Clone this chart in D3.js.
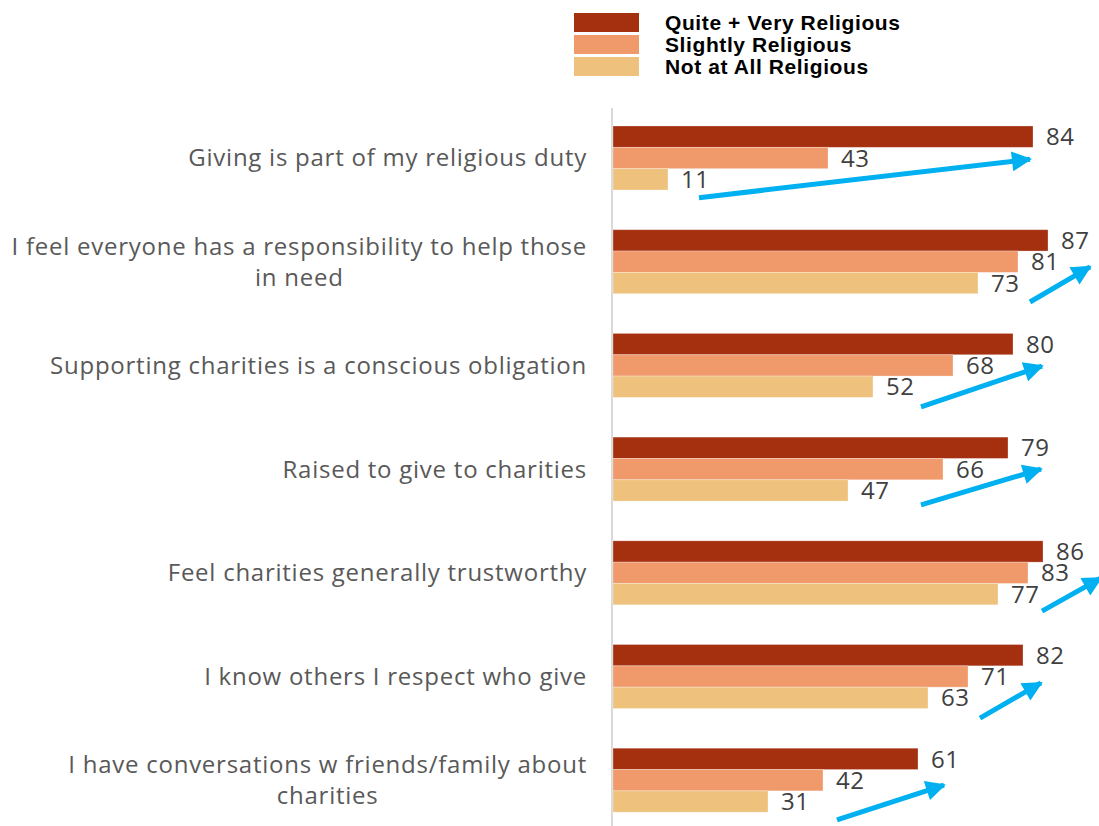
<!DOCTYPE html>
<html>
<head>
<meta charset="utf-8">
<script src="https://cdn.jsdelivr.net/npm/d3@7"></script>
<style>
  html, body { margin: 0; padding: 0; background: #fff; }
  svg { display: block; }
</style>
</head>
<body>
<svg id="chart" width="1099" height="826"></svg>
<script>
// Survey statements (top to bottom)
const categories = [
  "Giving is part of my religious duty",
  "I feel everyone has a responsibility to help those in need",
  "Supporting charities is a conscious obligation",
  "Raised to give to charities",
  "Feel charities generally trustworthy",
  "I know others I respect who give",
  "I have conversations w friends/family about charities"
];

// Religiosity groups
const series = ["Quite + Very Religious", "Slightly Religious", "Not at All Religious"];

// Percent agreeing, per group
const quiteVery   = [84, 87, 80, 79, 86, 82, 61];
const slightly    = [43, 81, 68, 66, 83, 71, 42];
const notAtAll    = [11, 73, 52, 47, 77, 63, 31];

// Trend arrows: start/end value along the x axis, and vertical position
// as a fraction of each category band
const arrowFromValue = [17.2, 83.4, 61.6, 61.6, 85.8, 73.4, 44.8];
const arrowToValue   = [83.4, 95.4, 85.8, 85.6, 97.6, 85.6, 66.2];
const arrowFromBand  = [1.12, 1.13, 1.15, 1.06, 1.10, 1.15, 1.12];
const arrowToBand    = [0.52, 0.58, 0.51, 0.50, 0.58, 0.60, 0.575];

const colors = ["#a53010", "#f09a6c", "#eec27c"];
const seriesValues = [quiteVery, slightly, notAtAll];

const svg = d3.select("#chart");

const x = d3.scaleLinear().domain([0, 100]).range([613, 1113]);

const y = d3.scaleBand()
  .domain(categories)
  .range([126, 812.2])
  .paddingInner(0.383)
  .paddingOuter(0);

const ySub = d3.scaleBand()
  .domain(series)
  .range([0, y.bandwidth()])
  .padding(0);

const color = d3.scaleOrdinal().domain(series).range(colors);

// Rows of data: one per category
const rows = categories.map((c, i) => ({
  category: c,
  values: series.map((s, k) => ({ series: s, value: seriesValues[k][i] }))
}));

// Vertical baseline
svg.append("line")
  .attr("x1", x(0) - 1).attr("x2", x(0) - 1)
  .attr("y1", 108).attr("y2", 826)
  .attr("stroke", "#d9d9d9")
  .attr("stroke-width", 2);

// Bars
const groups = svg.append("g").selectAll("g")
  .data(rows)
  .join("g")
  .attr("transform", d => `translate(0,${y(d.category)})`);

groups.selectAll("rect")
  .data(d => d.values)
  .join("rect")
  .attr("x", x(0))
  .attr("y", d => ySub(d.series))
  .attr("width", d => x(d.value) - x(0))
  .attr("height", ySub.bandwidth())
  .attr("fill", d => color(d.series))
  .attr("stroke", "#ffffff")
  .attr("stroke-opacity", 0.35)
  .attr("stroke-width", 0.8);

// Value labels
groups.selectAll("text.val")
  .data(d => d.values)
  .join("text")
  .attr("class", "val")
  .attr("x", d => x(d.value) + 13)
  .attr("y", d => ySub(d.series) + ySub.bandwidth() / 2)
  .attr("dy", "0.36em")
  .attr("font-family", "'Open Sans', sans-serif")
  .attr("font-size", 24)
  .attr("letter-spacing", 0.6)
  .attr("fill", "#404040")
  .text(d => d.value);

// Category labels: wrapped, the block right-aligned, lines centred within it
const labelRight = 587;
const maxLabelWidth = 582;
const lineGap = 31;
const labelLayer = svg.append("g");

rows.forEach(r => {
  const t = labelLayer.append("text")
    .attr("font-family", "'Open Sans', sans-serif")
    .attr("font-size", 24)
    .attr("letter-spacing", 0.75)
    .attr("fill", "#595959")
    .attr("text-anchor", "middle");
  // measure words to build lines
  const words = r.category.split(" ");
  const lines = [];
  let current = [];
  const probe = t.append("tspan");
  words.forEach(w => {
    const trial = current.concat(w).join(" ");
    probe.text(trial);
    if (probe.node().getComputedTextLength() > maxLabelWidth && current.length) {
      lines.push(current.join(" "));
      current = [w];
    } else {
      current.push(w);
    }
  });
  lines.push(current.join(" "));
  const widths = lines.map(l => { probe.text(l); return probe.node().getComputedTextLength(); });
  probe.remove();
  const blockW = d3.max(widths);
  const cx = labelRight - blockW / 2;
  const cy = y(r.category) + y.bandwidth() / 2;
  const top = cy - (lines.length - 1) * lineGap / 2;
  lines.forEach((l, i) => {
    t.append("tspan")
      .attr("x", cx)
      .attr("y", top + i * lineGap)
      .attr("dy", "0.35em")
      .text(l);
  });
});

// Trend arrows
const defs = svg.append("defs");
defs.append("marker")
  .attr("id", "arrowhead")
  .attr("viewBox", "0 0 10 10")
  .attr("refX", 9)
  .attr("refY", 5)
  .attr("markerUnits", "userSpaceOnUse")
  .attr("markerWidth", 22)
  .attr("markerHeight", 20)
  .attr("orient", "auto")
  .append("path")
  .attr("d", "M0,0 L10,5 L0,10 Z")
  .attr("fill", "#00b0f0");

svg.append("g").selectAll("line")
  .data(categories.map((c, i) => ({ c, i })))
  .join("line")
  .attr("x1", d => x(arrowFromValue[d.i]))
  .attr("y1", d => y(d.c) + arrowFromBand[d.i] * y.bandwidth())
  .attr("x2", d => x(arrowToValue[d.i]))
  .attr("y2", d => y(d.c) + arrowToBand[d.i] * y.bandwidth())
  .attr("stroke", "#00b0f0")
  .attr("stroke-width", 5)
  .attr("marker-end", "url(#arrowhead)");

// Legend
const legend = svg.append("g").attr("transform", "translate(574,13)");
const legendRow = legend.selectAll("g")
  .data(series)
  .join("g")
  .attr("transform", (d, i) => `translate(0,${i * 22})`);

legendRow.append("rect")
  .attr("width", 65)
  .attr("height", 19)
  .attr("fill", d => color(d));

legendRow.append("text")
  .attr("x", 91)
  .attr("y", 16.5)
  .attr("font-family", "'Liberation Sans', Arial, sans-serif")
  .attr("font-weight", "bold")
  .attr("font-size", 21)
  .attr("letter-spacing", 0.6)
  .attr("fill", "#000")
  .text(d => d);
</script>
</body>
</html>
